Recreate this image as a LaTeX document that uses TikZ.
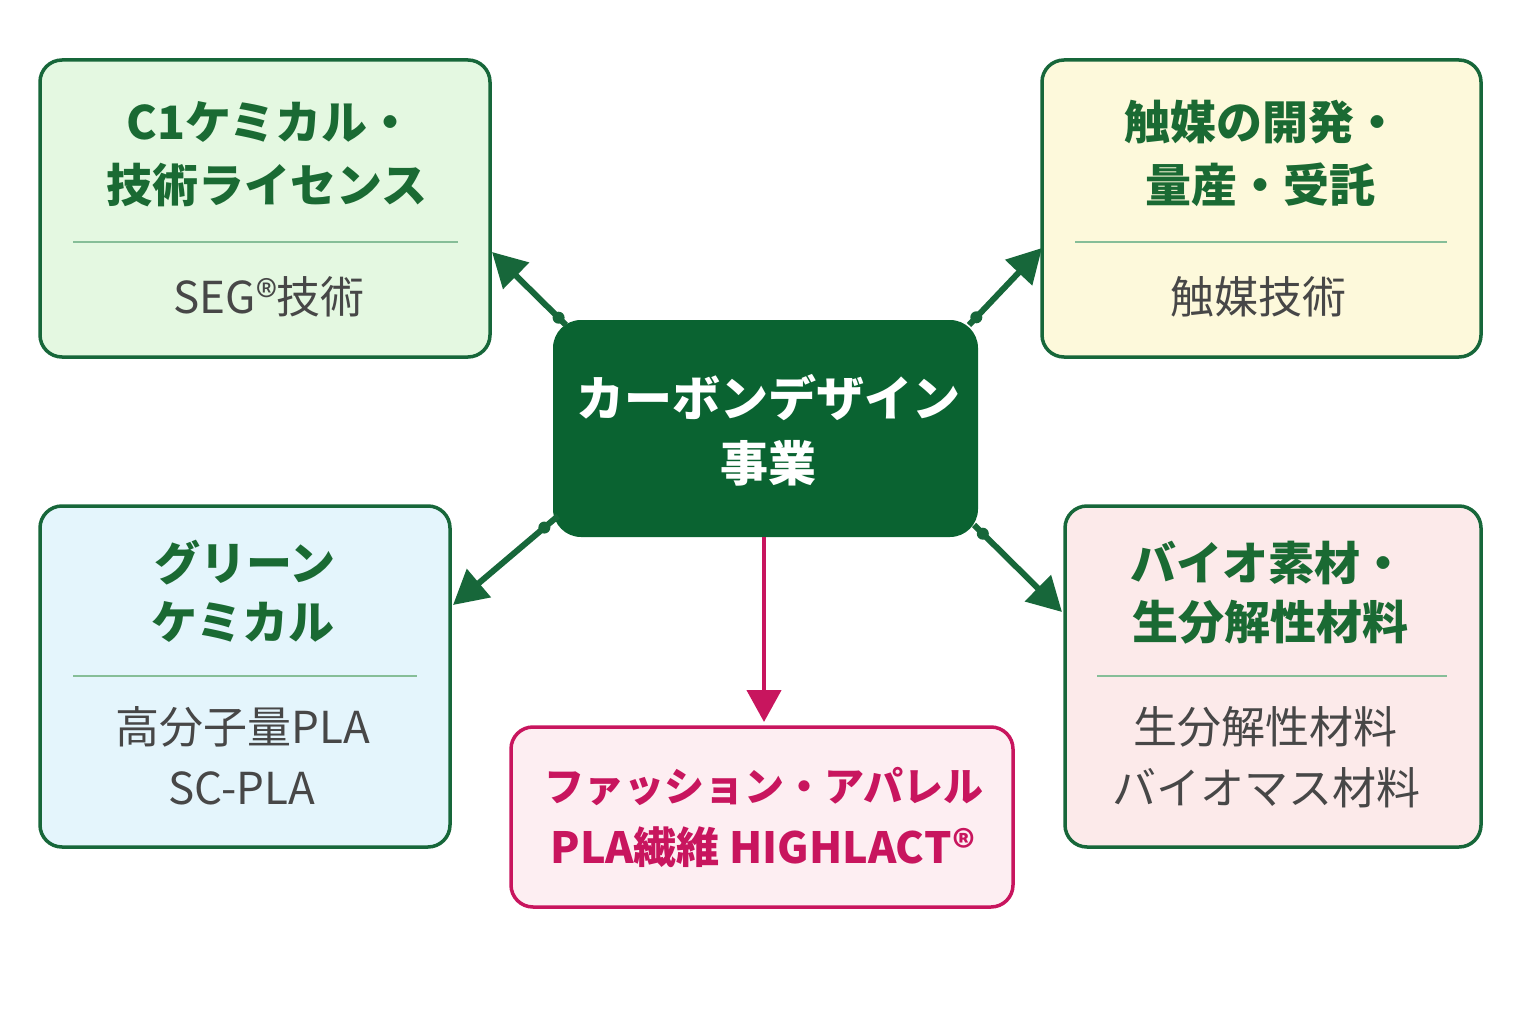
\documentclass[tikz,border=0pt]{standalone}
\usepackage{fontspec}
\setmainfont{Noto Sans CJK JP}
\usetikzlibrary{arrows.meta}
\definecolor{dg}{HTML}{17673A}
\definecolor{cf}{HTML}{0A6331}
\definecolor{tg}{HTML}{1A6A33}
\definecolor{dv}{HTML}{86BE98}
\definecolor{gy}{HTML}{474747}
\definecolor{mg}{HTML}{C8155E}
\definecolor{fgreen}{HTML}{E4F8E1}
\definecolor{fyellow}{HTML}{FDF9DB}
\definecolor{fblue}{HTML}{E4F5FC}
\definecolor{fpink}{HTML}{FCEAEA}
\definecolor{fpink2}{HTML}{FDEEF2}
\begin{document}
\begin{tikzpicture}[x=1pt,y=-1pt,
  box/.style={draw=dg, line width=3.5pt, rounded corners=22pt, inner sep=0pt},
  ttl/.style={text=tg, font=\fontsize{46}{50}\selectfont\bfseries, inner sep=0pt, anchor=center},
  sub/.style={text=gy, font=\fontsize{44}{48}\selectfont, inner sep=0pt, anchor=center},
  div/.style={draw=dv, line width=1.5pt},
  conn/.style={draw=dg, line width=6pt, -{Triangle[length=34pt,width=36pt]}},
  tick/.style={circle, fill=dg, inner sep=0pt, minimum size=12pt}]
\useasboundingbox[fill=white] (0,0) rectangle (1536,1024);

% outer boxes
\node[box, fill=fgreen, minimum width=450pt, minimum height=297pt] (tl) at (265,208.5) {};
\node[box, fill=fyellow, minimum width=439pt, minimum height=297pt] (tr) at (1261.5,208.5) {};
\node[box, fill=fblue, minimum width=410pt, minimum height=341pt] (bl) at (245,676.5) {};
\node[box, fill=fpink, minimum width=416pt, minimum height=341pt] (br) at (1273,676.5) {};
\node[box, draw=mg, fill=fpink2, minimum width=502pt, minimum height=180pt] (bm) at (762,817) {};

% center box
\node[fill=cf, rounded corners=28pt, minimum width=425pt, minimum height=217pt, inner sep=0pt] (c) at (765.5,428.5) {};
\node[text=white, font=\fontsize{48}{52}\selectfont\bfseries, inner sep=0pt] (c1) at (768,398) {カーボンデザイン};
\node[text=white, font=\fontsize{48}{52}\selectfont\bfseries, inner sep=0pt] (c2) at (768,463) {事業};

% top-left
\node[ttl] (tl1) at (270,122) {C1ケミカル・};
\node[ttl] (tl2) at (267,185) {技術ライセンス};
\draw[div] (73,242) -- (458,242);
\node[sub] (tl3) at (269,297) {SEG®技術};

% top-right
\node[ttl] (tr1) at (1262,122) {触媒の開発・};
\node[ttl] (tr2) at (1260,185) {量産・受託};
\draw[div] (1075,242) -- (1447,242);
\node[sub] (tr3) at (1258,297) {触媒技術};

% bottom-left
\node[ttl] (bl1) at (245,563) {グリーン};
\node[ttl] (bl2) at (243,622) {ケミカル};
\draw[div] (73,676) -- (417,676);
\node[sub] (bl3) at (243,727) {高分子量PLA};
\node[sub] (bl4) at (242,788) {SC-PLA};

% bottom-right
\node[ttl] (br1) at (1268,563) {バイオ素材・};
\node[ttl] (br2) at (1270,622) {生分解性材料};
\draw[div] (1097,676) -- (1447,676);
\node[sub] (br3) at (1265,727) {生分解性材料};
\node[sub] (br4) at (1266,788) {バイオマス材料};

% bottom-middle
\node[text=mg, font=\fontsize{40}{44}\selectfont\bfseries, inner sep=0pt] (bm1) at (764,787) {ファッション・アパレル};
\node[text=mg, font=\fontsize{43}{47}\selectfont\bfseries, inner sep=0pt] (bm2) at (763,847) {PLA繊維 HIGHLACT®};

% connector end points
\coordinate (s1) at (566,325);  \coordinate (e1) at (492,252);
\coordinate (s2) at (969,325);  \coordinate (e2) at (1042,248);
\coordinate (s3) at (558,516);  \coordinate (e3) at (453,605);
\coordinate (s4) at (974,525);  \coordinate (e4) at (1062,612);
\coordinate (s5) at (764,537);  \coordinate (e5) at (764,722);

\draw[conn] (s1) -- node[tick, pos=0.1] (k1) {} (e1);
\draw[conn] (s2) -- node[tick, pos=0.1] (k2) {} (e2);
\draw[conn] (s3) -- node[tick, pos=0.13] (k3) {} (e3);
\draw[conn] (s4) -- node[tick, pos=0.1] (k4) {} (e4);
\draw[conn, draw=mg, fill=mg, line width=4.5pt, -{Triangle[length=32pt,width=34pt]}] (s5) -- (e5);
\end{tikzpicture}
\end{document}
